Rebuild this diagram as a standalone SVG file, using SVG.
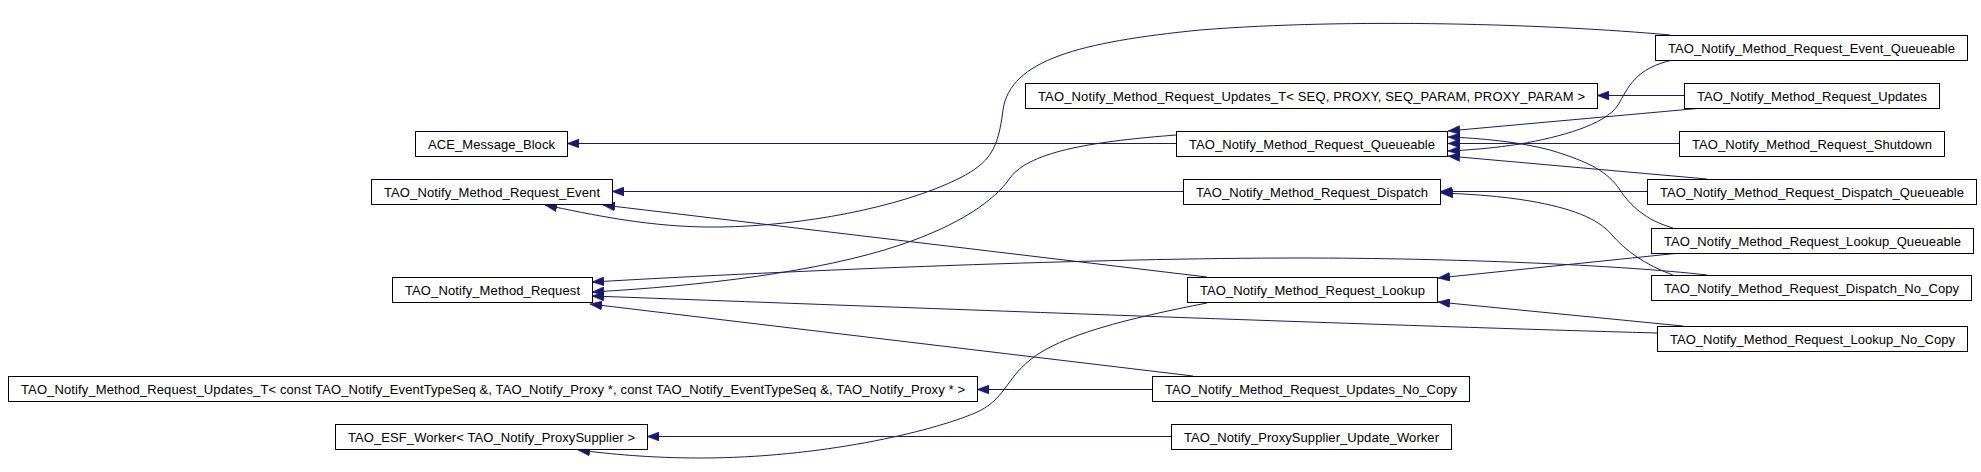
<svg xmlns="http://www.w3.org/2000/svg" width="1981" height="472" viewBox="0 0 1981 472">
<style>
.n rect{fill:#fff;stroke:#000;stroke-width:1}
.n text{font-family:"Liberation Sans",Arial,sans-serif;font-size:13px;fill:#000;text-anchor:middle}
.e path{fill:none;stroke:#191970;stroke-width:1;marker-end:url(#ah)}
</style>
<defs>
<marker id="ah" viewBox="0 0 12 9" refX="12" refY="4.5" markerWidth="12" markerHeight="9" markerUnits="userSpaceOnUse" orient="auto">
<path d="M0,0 L12,4.5 L0,9 z" fill="#191970" stroke="#191970" stroke-width="0.5"/>
</marker>
</defs>
<rect width="1981" height="472" fill="#fff"/>
<g class="e" id="edges">
<path d="M1176,143.5 L567,143.5"/>
<path d="M1176,135 C1100,141 1030,150 1010,178 C995,200 960,225 900,245 C820,272 700,286 592,292"/>
<path d="M1183,191.5 L612,191.5"/>
<path d="M1670,35 C1550,24 1350,18 1200,30 C1080,42 1010,60 1003,110 C998,150 990,162 960,178 C900,208 800,226 720,227 C650,228 590,214 545,205"/>
<path d="M1207,277 L603,205"/>
<path d="M1207,303 C1130,318 1060,335 1030,360 C1005,380 1005,400 975,413 C930,432 820,458 700,458 C650,458 610,454 578,450"/>
<path d="M1684,95.5 L1597,95.5"/>
<path d="M1703,108 L1448,131"/>
<path d="M1673,60 C1635,68 1628,88 1618,105 C1605,125 1560,137 1520,144 C1495,148 1470,150 1448,151"/>
<path d="M1679,143.5 L1448,143.5"/>
<path d="M1673,228 C1645,220 1630,205 1620,190 C1608,172 1590,162 1550,150 C1520,142 1480,138 1448,137"/>
<path d="M1707,179 L1448,156"/>
<path d="M1647,191.5 L1440,191.5"/>
<path d="M1680,253 L1438,278"/>
<path d="M1673,275 C1645,265 1625,250 1612,235 C1598,218 1570,208 1530,201 C1500,196 1470,194 1441,193"/>
<path d="M1707,275 C1620,265 1450,258 1300,258 C1100,258 800,270 592,282"/>
<path d="M1683,326 L1438,302"/>
<path d="M1657,333 C1400,326 1000,311 592,296"/>
<path d="M1152,389.5 L977,389.5"/>
<path d="M1193,376 L590,304"/>
<path d="M1171,436.5 L647,436.5"/>
</g>
<g class="n" id="ace_message_block"><rect x="415.5" y="131.5" width="152" height="25"/><text x="491.5" y="148.5" textLength="127">ACE_Message_Block</text></g>
<g class="n" id="method_request_event"><rect x="371.5" y="179.5" width="241" height="25"/><text x="492" y="196.5" textLength="216">TAO_Notify_Method_Request_Event</text></g>
<g class="n" id="method_request"><rect x="392.5" y="277.5" width="200" height="25"/><text x="492.5" y="294.5" textLength="175">TAO_Notify_Method_Request</text></g>
<g class="n" id="updates_t_const"><rect x="8.5" y="376.5" width="969" height="25"/><text x="493" y="393.5" textLength="944">TAO_Notify_Method_Request_Updates_T&lt; const TAO_Notify_EventTypeSeq &amp;, TAO_Notify_Proxy *, const TAO_Notify_EventTypeSeq &amp;, TAO_Notify_Proxy * &gt;</text></g>
<g class="n" id="esf_worker"><rect x="335.5" y="424.5" width="312" height="25"/><text x="491.5" y="441.5" textLength="287">TAO_ESF_Worker&lt; TAO_Notify_ProxySupplier &gt;</text></g>
<g class="n" id="updates_t_seq"><rect x="1025.5" y="83.5" width="572" height="25"/><text x="1311.5" y="100.5" textLength="547">TAO_Notify_Method_Request_Updates_T&lt; SEQ, PROXY, SEQ_PARAM, PROXY_PARAM &gt;</text></g>
<g class="n" id="queueable"><rect x="1176.5" y="131.5" width="271" height="25"/><text x="1312" y="148.5" textLength="246">TAO_Notify_Method_Request_Queueable</text></g>
<g class="n" id="dispatch"><rect x="1183.5" y="179.5" width="257" height="25"/><text x="1312" y="196.5" textLength="232">TAO_Notify_Method_Request_Dispatch</text></g>
<g class="n" id="lookup"><rect x="1187.5" y="277.5" width="250" height="25"/><text x="1312.5" y="294.5" textLength="225">TAO_Notify_Method_Request_Lookup</text></g>
<g class="n" id="updates_no_copy"><rect x="1152.5" y="376.5" width="317" height="25"/><text x="1311" y="393.5" textLength="292">TAO_Notify_Method_Request_Updates_No_Copy</text></g>
<g class="n" id="proxysupplier_update_worker"><rect x="1171.5" y="424.5" width="280" height="25"/><text x="1311.5" y="441.5" textLength="255">TAO_Notify_ProxySupplier_Update_Worker</text></g>
<g class="n" id="event_queueable"><rect x="1655.5" y="35.5" width="312" height="25"/><text x="1811.5" y="52.5" textLength="287">TAO_Notify_Method_Request_Event_Queueable</text></g>
<g class="n" id="updates"><rect x="1684.5" y="83.5" width="255" height="25"/><text x="1812" y="100.5" textLength="230">TAO_Notify_Method_Request_Updates</text></g>
<g class="n" id="shutdown"><rect x="1679.5" y="131.5" width="265" height="25"/><text x="1812" y="148.5" textLength="240">TAO_Notify_Method_Request_Shutdown</text></g>
<g class="n" id="dispatch_queueable"><rect x="1647.5" y="179.5" width="329" height="25"/><text x="1812" y="196.5" textLength="304">TAO_Notify_Method_Request_Dispatch_Queueable</text></g>
<g class="n" id="lookup_queueable"><rect x="1651.5" y="228.5" width="322" height="25"/><text x="1812.5" y="245.5" textLength="297">TAO_Notify_Method_Request_Lookup_Queueable</text></g>
<g class="n" id="dispatch_no_copy"><rect x="1651.5" y="275.5" width="320" height="25"/><text x="1811.5" y="292.5" textLength="295">TAO_Notify_Method_Request_Dispatch_No_Copy</text></g>
<g class="n" id="lookup_no_copy"><rect x="1657.5" y="326.5" width="310" height="25"/><text x="1812.5" y="343.5" textLength="285">TAO_Notify_Method_Request_Lookup_No_Copy</text></g>
</svg>
